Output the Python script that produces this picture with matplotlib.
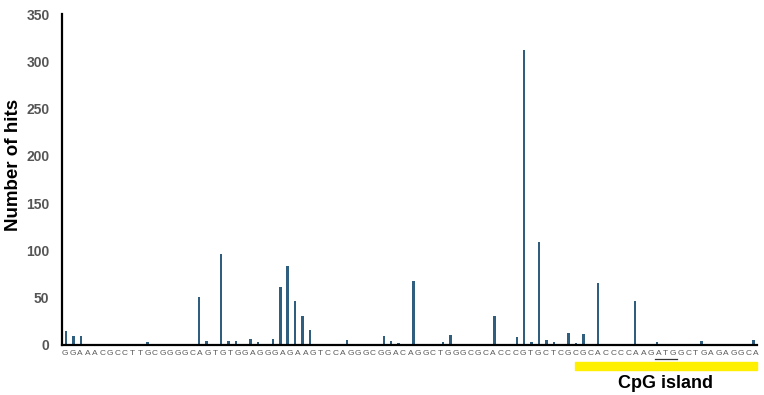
import numpy as np
import matplotlib
matplotlib.use('Agg')
import matplotlib.pyplot as plt

plt.rcParams['font.family'] = ['Liberation Sans', 'DejaVu Sans']

sequence = "GGAAACGCCTTGCGGGGCAGTGTGGAGGGAGAAGTCCAGGGCGGACAGGCTGGGCGCACCCGTGCTCGCGCACCCCAAGATGGCTGAGAGGCA"
n_positions = 94
hit_positions = [0, 1, 2, 11, 15, 16, 18, 19, 21, 22, 23, 25, 26, 27, 28, 29, 30, 31, 32, 33,
                 38, 43, 44, 45, 47, 51, 52, 54, 55, 56, 58, 61, 62, 63, 64, 65, 66, 68, 69, 70,
                 72, 74, 77, 78, 80, 86, 93]
hit_counts = [15, 9, 9, 3, 0.5, 0.5, 51, 4, 96, 4, 4, 6, 3, 1, 6, 61, 84, 46, 31, 16,
              5, 9, 4, 2, 68, 3, 11, 0.5, 0.5, 0.5, 31, 8, 312, 3, 109, 5, 3, 13, 2, 12,
              66, 0.3, 46, 0.5, 3, 4, 5]
yticks = [0, 50, 100, 150, 200, 250, 300, 350]

hits = np.zeros(n_positions)
hits[hit_positions] = hit_counts

fig = plt.figure(figsize=(7.64, 3.95), dpi=100)
ax = fig.add_axes([62/764, 1-345/395, (757-62)/764, (345-14)/395])

ax.bar(np.arange(n_positions), hits, width=0.34, color='#2F5E7E')
ax.set_xlim(-0.54, 93.5)
ax.set_ylim(0, 350)
ax.set_yticks(yticks)
ax.set_yticklabels([str(t) for t in yticks], fontsize=10, fontweight='bold', color='#555555')
ax.tick_params(axis='y', length=0, pad=9)
ax.set_xticks([])
for s in ['top', 'right']:
    ax.spines[s].set_visible(False)
ax.spines['left'].set_linewidth(1.6)
ax.spines['bottom'].set_linewidth(1.6)
fig.text(14/764, 1-165/395, 'Number of hits', rotation=90, ha='center', va='center',
         fontsize=13.5, fontweight='bold')

# sequence letters (spaced slightly differently than bars)
def px_to_x(px):
    return (px - 66) / 7.39

y_txt = -0.015
for j, ch in enumerate(sequence):
    x = px_to_x(65 + 7.51 * j)
    ax.text(x, y_txt, ch, transform=ax.get_xaxis_transform(), ha='center', va='top',
            fontsize=6, color='#5a5a5a')

# underline ATG
atg = sequence.find('CAAGATG') + 4
x0 = px_to_x(65 + 7.51 * atg) - 0.5
x1 = px_to_x(65 + 7.51 * (atg + 2)) + 0.5
ax.plot([x0, x1], [-0.043, -0.043], transform=ax.get_xaxis_transform(), color='#333333',
        lw=0.9, clip_on=False)

# CpG island bar
fig.patches.append(plt.Rectangle((575/764, 1-370/395), (757-575)/764, 8/395,
                                 transform=fig.transFigure, color='#FFEF00'))
fig.text(665/764, 1-383/395, 'CpG island', ha='center', va='center',
         fontsize=13, fontweight='bold')

fig.savefig('out.png', dpi=100)
